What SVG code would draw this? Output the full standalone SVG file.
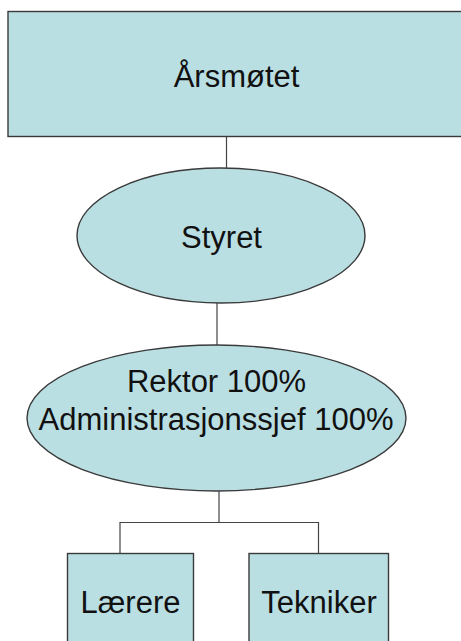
<svg xmlns="http://www.w3.org/2000/svg" width="461" height="641" viewBox="0 0 461 641">
<style>
.shape{fill:#badfe3;stroke:#3a3a3a;stroke-width:1.4}
.lbl{font-family:"Liberation Sans",Arial,sans-serif;font-size:31px;fill:#111;text-anchor:middle}
.conn{fill:none;stroke:#444;stroke-width:1.2}
</style>
<rect width="461" height="641" fill="#ffffff"/>
<g id="connectors">
<line class="conn" x1="226.5" y1="137" x2="226.5" y2="168"/>
<line class="conn" x1="217" y1="303" x2="217" y2="345"/>
<polyline class="conn" points="219,491 219,522.5 120,522.5 120,553"/>
<polyline class="conn" points="219,522.5 318.5,522.5 318.5,553"/>
</g>
<g id="arsmotet">
<rect class="shape" x="8" y="11.5" width="470" height="125"/>
<text class="lbl" x="236.5" y="87">Årsmøtet</text>
</g>
<g id="styret">
<ellipse class="shape" cx="221" cy="235.5" rx="144" ry="67.5"/>
<text class="lbl" x="221.5" y="248">Styret</text>
</g>
<g id="rektor">
<ellipse class="shape" cx="216.5" cy="418" rx="189.5" ry="73"/>
<text class="lbl" x="216.5" y="391.5">Rektor 100%</text>
<text class="lbl" x="216" y="430">Administrasjonssjef 100%</text>
</g>
<g id="laerere">
<rect class="shape" x="67.5" y="553.5" width="126" height="100"/>
<text class="lbl" x="130.5" y="613">Lærere</text>
</g>
<g id="tekniker">
<rect class="shape" x="249" y="553.5" width="139.5" height="100"/>
<text class="lbl" x="319" y="613">Tekniker</text>
</g>
</svg>
